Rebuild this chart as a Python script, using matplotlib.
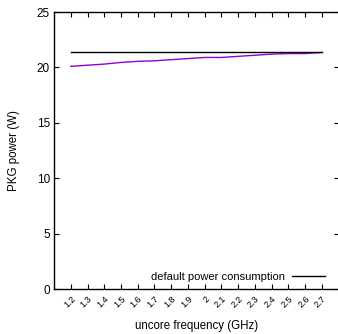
import matplotlib
matplotlib.use("Agg")
import matplotlib.pyplot as plt

freq = [1.2, 1.3, 1.4, 1.5, 1.6, 1.7, 1.8, 1.9, 2.0, 2.1, 2.2, 2.3, 2.4, 2.5, 2.6, 2.7]
pkg_power = [20.1, 20.2, 20.3, 20.45, 20.55, 20.6, 20.7, 20.8, 20.9, 20.9, 21.0, 21.1, 21.2, 21.25, 21.25, 21.35]
default_power = [21.35] * len(freq)
xtick_labels = ["1.2", "1.3", "1.4", "1.5", "1.6", "1.7", "1.8", "1.9", "2", "2.1", "2.2", "2.3", "2.4", "2.5", "2.6", "2.7"]
yticks = [0, 5, 10, 15, 20, 25]

plt.rcParams['font.family'] = ['Liberation Sans', 'DejaVu Sans']
fig = plt.figure(figsize=(3.38, 3.34), dpi=100)
ax = fig.add_axes([0.160, 0.1347, 0.8417, 0.8293])

ax.plot(freq, pkg_power, color='#9400d3', lw=1.0)
ax.plot(freq, default_power, color='black', lw=1.0, label='default power consumption')

ax.set_xlim(1.1, 2.8)
ax.set_ylim(0, 25)
ax.set_xticks(freq)
ax.set_xticklabels(xtick_labels, rotation=45, ha='right', rotation_mode='anchor', fontsize=6.5)
ax.set_yticks(yticks)
ax.set_yticklabels([str(v) for v in yticks], fontsize=8.5)
ax.tick_params(direction='in', length=3.5, width=0.8, top=True, right=True, pad=3)
ax.tick_params(axis='x', pad=4)
for s in ax.spines.values():
    s.set_linewidth(1.0)

ax.set_xlabel('uncore frequency (GHz)', fontsize=8.3, labelpad=7)
ax.set_ylabel('PKG power (W)', fontsize=8.3, labelpad=12)

ax.legend(loc='lower right', bbox_to_anchor=(0.96, 0.016), frameon=False, fontsize=8,
          handlelength=3.0, markerfirst=False, borderaxespad=0, borderpad=0.2,
          handletextpad=0.6)

fig.savefig('out.png', dpi=100)
